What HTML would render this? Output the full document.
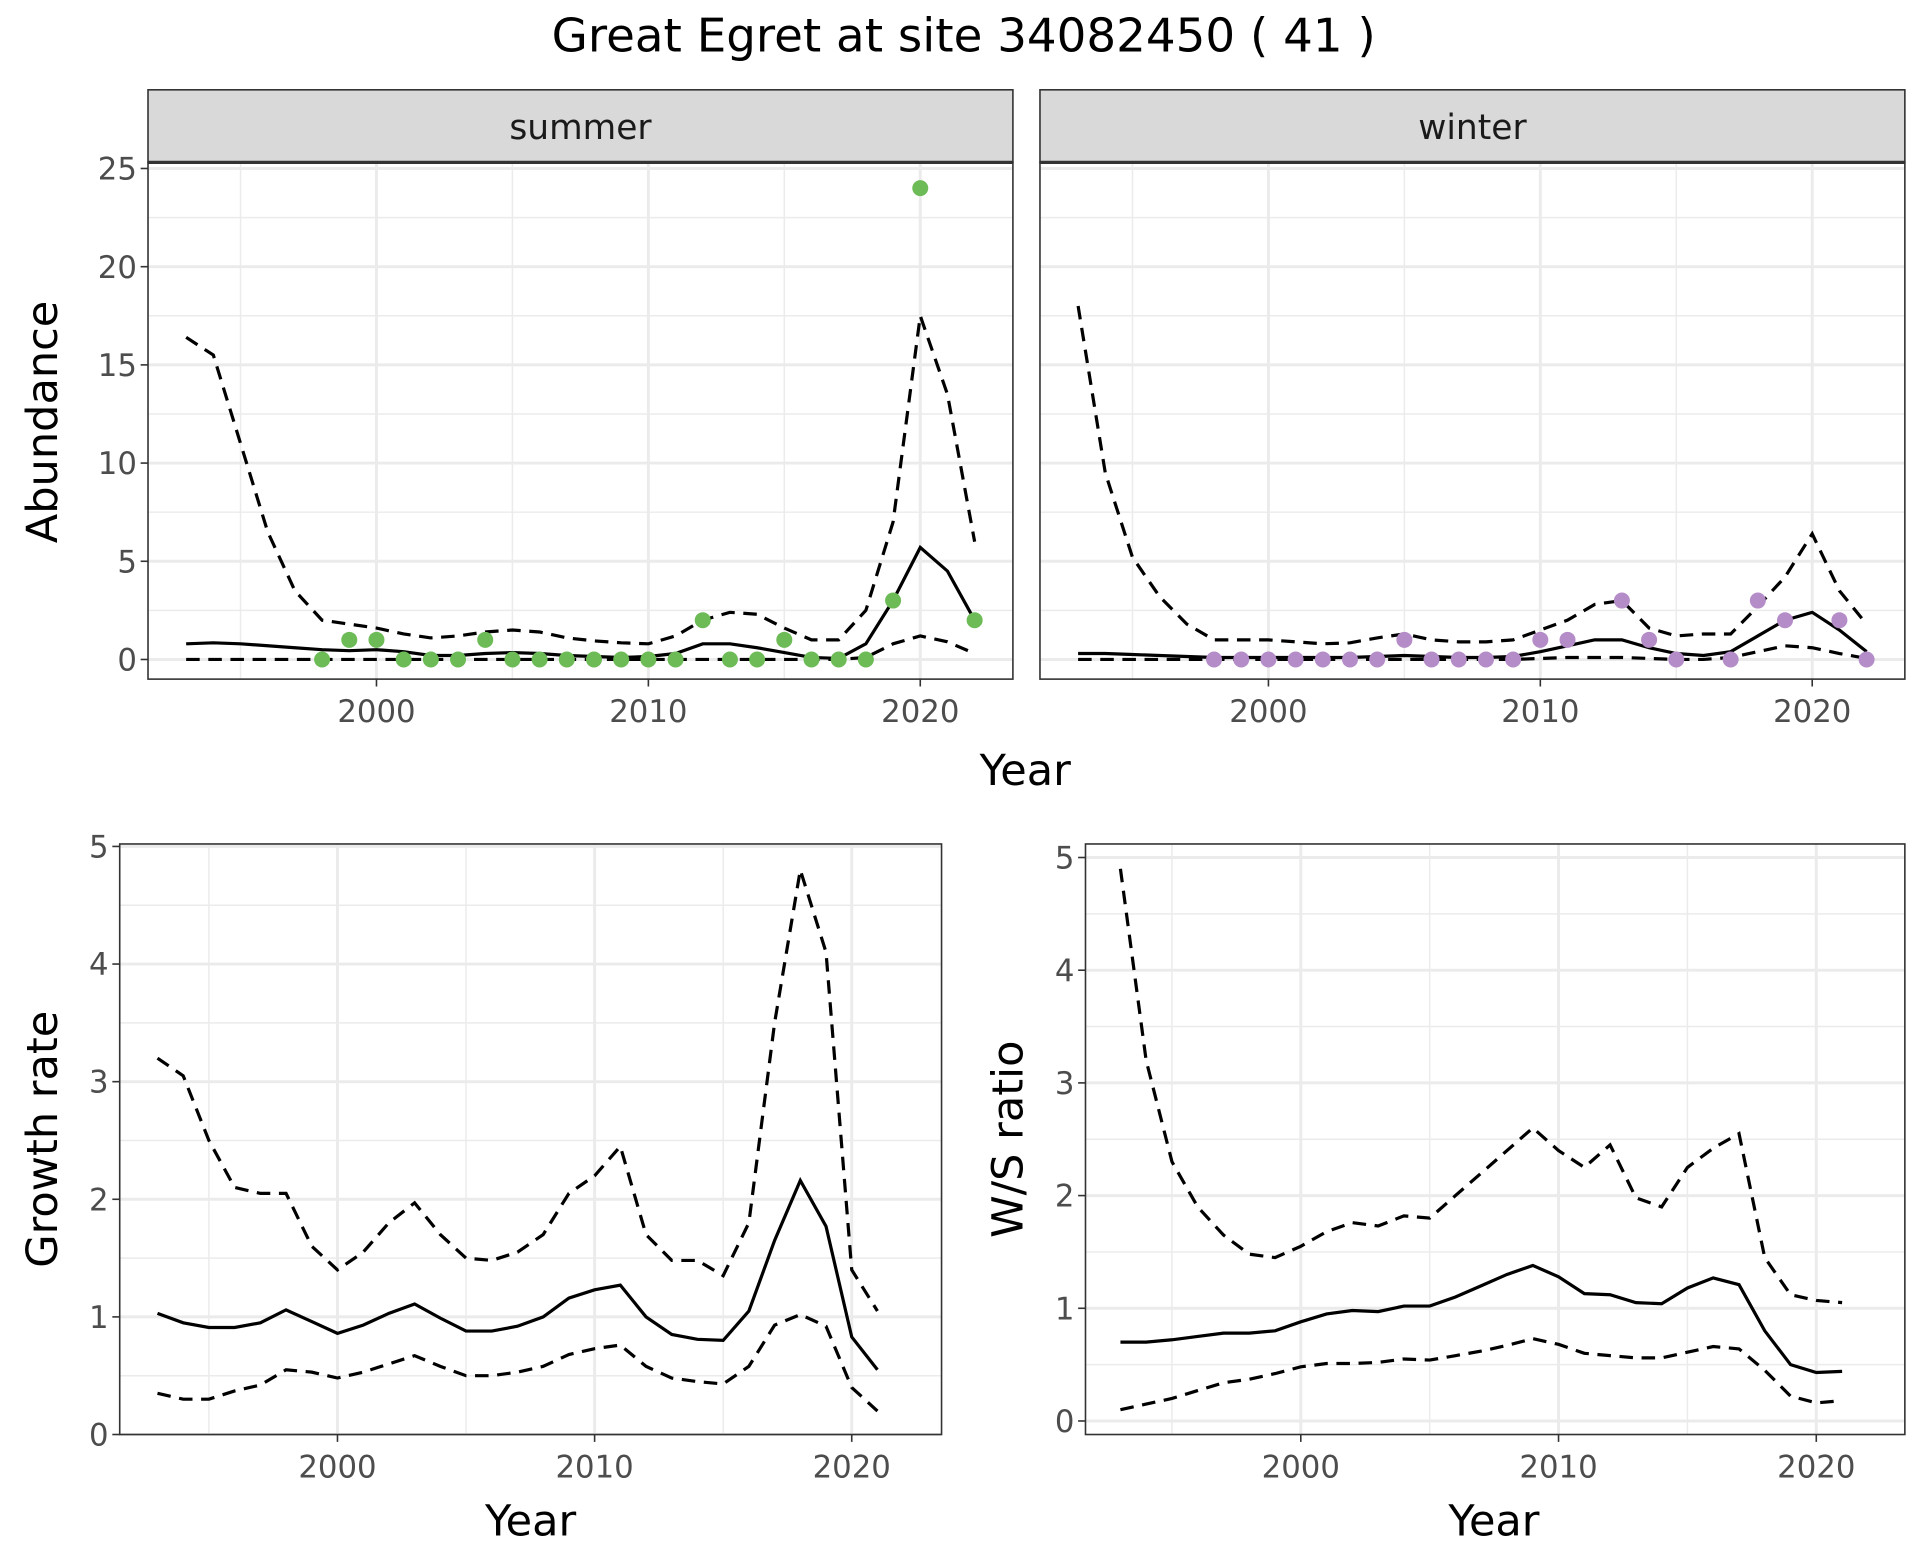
<!DOCTYPE html>
<html><head><meta charset="utf-8">
<style>
html,body{margin:0;padding:0;background:#fff;}
svg{display:block;font-family:"DejaVu Sans","Liberation Sans",sans-serif;}
</style></head>
<body>
<svg id="chart" width="1920" height="1560" viewBox="0 0 1560 1268" xmlns="http://www.w3.org/2000/svg">
<rect width="1560" height="1268" fill="#fff"/>
<text x="783" y="42" font-size="38" text-anchor="middle" fill="#000">Great Egret at site 34082450 ( 41 )</text>
</svg>
<script>
const absYears=[1993,1994,1995,1996,1997,1998,1999,2000,2001,2002,2003,2004,2005,2006,2007,2008,2009,2010,2011,2012,2013,2014,2015,2016,2017,2018,2019,2020,2021,2022];
const summerMean=[0.8,0.85,0.8,0.7,0.6,0.5,0.45,0.5,0.4,0.2,0.2,0.3,0.35,0.3,0.2,0.15,0.1,0.15,0.3,0.8,0.8,0.6,0.35,0.1,0.05,0.8,3,5.7,4.5,2];
const summerUpper=[16.4,15.5,11,6.5,3.5,2,1.8,1.6,1.3,1.1,1.2,1.4,1.5,1.4,1.1,0.95,0.85,0.8,1.2,2,2.4,2.3,1.6,1.0,1.0,2.5,7,17.5,13.5,6];
const summerLower=[0,0,0,0,0,0,0,0,0,0,0,0,0,0,0,0,0,0,0,0,0,0,0,0,0,0.1,0.8,1.2,0.9,0.3];
const summerPtYears=[1998,1999,2000,2001,2002,2003,2004,2005,2006,2007,2008,2009,2010,2011,2012,2013,2014,2015,2016,2017,2018,2019,2020,2022];
const summerPtVals=[0,1,1,0,0,0,1,0,0,0,0,0,0,0,2,0,0,1,0,0,0,3,24,2];
const winterMean=[0.3,0.3,0.25,0.2,0.15,0.1,0.1,0.1,0.1,0.1,0.1,0.15,0.2,0.15,0.1,0.1,0.15,0.4,0.7,1.0,1.0,0.6,0.3,0.2,0.4,1.2,2.0,2.4,1.5,0.4];
const winterUpper=[18,9.5,5.2,3.2,1.8,1.0,1.0,1.0,0.9,0.8,0.85,1.1,1.3,1.0,0.9,0.9,1.0,1.5,2.0,2.8,3.0,1.6,1.2,1.3,1.3,2.7,4.2,6.4,3.5,1.8];
const winterLower=[0,0,0,0,0,0,0,0,0,0,0,0,0,0,0,0,0,0.05,0.1,0.1,0.1,0.05,0,0,0.1,0.4,0.7,0.6,0.3,0.05];
const winterPtYears=[1998,1999,2000,2001,2002,2003,2004,2005,2006,2007,2008,2009,2010,2011,2013,2014,2015,2017,2018,2019,2021,2022];
const winterPtVals=[0,0,0,0,0,0,0,1,0,0,0,0,1,1,3,1,0,0,3,2,2,0];
const rateYears=[1993,1994,1995,1996,1997,1998,1999,2000,2001,2002,2003,2004,2005,2006,2007,2008,2009,2010,2011,2012,2013,2014,2015,2016,2017,2018,2019,2020,2021];
const growthMean=[1.03,0.95,0.91,0.91,0.95,1.06,0.96,0.86,0.93,1.03,1.11,0.99,0.88,0.88,0.92,1.0,1.16,1.23,1.27,1.0,0.85,0.81,0.8,1.05,1.65,2.16,1.77,0.83,0.55];
const growthUpper=[3.2,3.05,2.5,2.1,2.05,2.05,1.6,1.4,1.55,1.8,1.97,1.7,1.5,1.48,1.55,1.7,2.05,2.2,2.45,1.7,1.48,1.48,1.35,1.8,3.5,4.8,4.1,1.4,1.05];
const growthLower=[0.35,0.3,0.3,0.37,0.42,0.55,0.53,0.48,0.53,0.6,0.67,0.58,0.5,0.5,0.53,0.58,0.68,0.73,0.76,0.58,0.48,0.45,0.43,0.58,0.93,1.02,0.92,0.4,0.2];
const ratioMean=[0.7,0.7,0.72,0.75,0.78,0.78,0.8,0.88,0.95,0.98,0.97,1.02,1.02,1.1,1.2,1.3,1.38,1.28,1.13,1.12,1.05,1.04,1.18,1.27,1.21,0.8,0.5,0.43,0.44];
const ratioUpper=[4.9,3.2,2.3,1.9,1.65,1.48,1.45,1.55,1.68,1.76,1.73,1.82,1.8,2.0,2.2,2.4,2.6,2.4,2.25,2.45,1.98,1.9,2.25,2.42,2.55,1.45,1.12,1.07,1.05];
const ratioLower=[0.1,0.15,0.2,0.27,0.34,0.37,0.42,0.48,0.51,0.51,0.52,0.55,0.54,0.58,0.62,0.67,0.73,0.68,0.6,0.58,0.56,0.56,0.61,0.66,0.64,0.45,0.22,0.16,0.18];
const xTicks=[2000,2010,2020];
const xMinor=[1995,2005,2015];
const absTicks=[0,5,10,15,20,25];
const rateTicks=[0,1,2,3,4,5];

const NS="http://www.w3.org/2000/svg";
const svg=document.getElementById('chart');
function mk(tag,attrs,parent){const e=document.createElementNS(NS,tag);for(const k in attrs)e.setAttribute(k,attrs[k]);(parent||svg).appendChild(e);return e;}

function panel(cfg){
  const g=mk('g',{});
  
  
  const sx=v=>cfg.x0+(v-cfg.xmin)/(cfg.xmax-cfg.xmin)*(cfg.x1-cfg.x0);
  const sy=v=>cfg.y1-(v-cfg.ymin)/(cfg.ymax-cfg.ymin)*(cfg.y1-cfg.y0);
  mk('rect',{x:cfg.x0,y:cfg.y0,width:cfg.x1-cfg.x0,height:cfg.y1-cfg.y0,fill:'#fff'},g);
  xMinor.forEach(v=>mk('line',{x1:sx(v),x2:sx(v),y1:cfg.y0,y2:cfg.y1,stroke:'#ebebeb','stroke-width':1.2},g));
  for(let i=0;i<cfg.yticks.length-1;i++){const v=(cfg.yticks[i]+cfg.yticks[i+1])/2;if(sy(v)>cfg.y0)mk('line',{x1:cfg.x0,x2:cfg.x1,y1:sy(v),y2:sy(v),stroke:'#ebebeb','stroke-width':1.2},g);}
  {const v=cfg.yticks[cfg.yticks.length-1]+(cfg.yticks[1]-cfg.yticks[0])/2;if(sy(v)>cfg.y0)mk('line',{x1:cfg.x0,x2:cfg.x1,y1:sy(v),y2:sy(v),stroke:'#ebebeb','stroke-width':1.2},g);}
  xTicks.forEach(v=>mk('line',{x1:sx(v),x2:sx(v),y1:cfg.y0,y2:cfg.y1,stroke:'#ebebeb','stroke-width':2.4},g));
  cfg.yticks.forEach(v=>mk('line',{x1:cfg.x0,x2:cfg.x1,y1:sy(v),y2:sy(v),stroke:'#ebebeb','stroke-width':2.4},g));
  const path=(ys,vals,dash,nm)=>{const d=vals.map((v,i)=>(i?'L':'M')+sx(ys[i]).toFixed(1)+','+sy(v).toFixed(1)).join(' ');
    const p=mk('path',{d:d,fill:'none',stroke:'#000','stroke-width':2.6,'stroke-dasharray':dash||'none'},g);
    
    };
  path(cfg.years,cfg.upper,'11,7',cfg.name+'-upper-line');
  path(cfg.years,cfg.lower,'11,7',cfg.name+'-lower-line');
  path(cfg.years,cfg.mean,null,cfg.name+'-mean-line');
  if(cfg.ptYears){cfg.ptYears.forEach((yr,i)=>{const c=mk('circle',{cx:sx(yr),cy:sy(cfg.ptVals[i]),r:6.5,fill:cfg.ptColor},g);
    
    });}
  mk('rect',{x:cfg.x0,y:cfg.y0,width:cfg.x1-cfg.x0,height:cfg.y1-cfg.y0,fill:'none',stroke:'#333','stroke-width':1.3},g);
  if(cfg.showY){cfg.yticks.forEach(v=>{mk('line',{x1:cfg.x0-6,x2:cfg.x0,y1:sy(v),y2:sy(v),stroke:'#333','stroke-width':1.3},g);
    const t=mk('text',{x:cfg.x0-9,y:sy(v)+9,'font-size':25,'text-anchor':'end',fill:'#4d4d4d'},g);t.textContent=v;
    
    });}
  xTicks.forEach(v=>{mk('line',{x1:sx(v),x2:sx(v),y1:cfg.y1,y2:cfg.y1+6,stroke:'#333','stroke-width':1.3},g);
    const t=mk('text',{x:sx(v),y:cfg.y1+35,'font-size':25,'text-anchor':'middle',fill:'#4d4d4d'},g);t.textContent=v;
    
    });
  if(cfg.strip){const r=mk('rect',{x:cfg.x0,y:73,width:cfg.x1-cfg.x0,height:cfg.y0-73,fill:'#d9d9d9',stroke:'#333','stroke-width':1.3},g);
    
    
    mk('line',{x1:cfg.x0,x2:cfg.x1,y1:cfg.y0,y2:cfg.y0,stroke:'#333','stroke-width':2.6},g);
    const t=mk('text',{x:(cfg.x0+cfg.x1)/2,y:113,'font-size':28,'text-anchor':'middle',fill:'#1a1a1a'},g);t.textContent=cfg.strip;
    
    }
}
panel({name:'summer-panel',strip:'summer',x0:120,x1:823,y0:132,y1:552,xmin:1993-31/22.1,xmax:1993+(823-151)/22.1,ymin:-1.0,ymax:25.31,years:absYears,mean:summerMean,upper:summerUpper,lower:summerLower,ptYears:summerPtYears,ptVals:summerPtVals,ptColor:'#6cbb56',yticks:absTicks,showY:true});
panel({name:'winter-panel',strip:'winter',x0:845,x1:1548,y0:132,y1:552,xmin:1993-31/22.1,xmax:1993+(823-151)/22.1,ymin:-1.0,ymax:25.31,years:absYears,mean:winterMean,upper:winterUpper,lower:winterLower,ptYears:winterPtYears,ptVals:winterPtVals,ptColor:'#b48cc8',yticks:absTicks,showY:false});
panel({name:'growth-panel',x0:97,x1:765,y0:686,y1:1166,xmin:2000-(274-97)/20.9,xmax:2000+(765-274)/20.9,ymin:0,ymax:(1166-686)/95.6,years:rateYears,mean:growthMean,upper:growthUpper,lower:growthLower,yticks:rateTicks,showY:true});
panel({name:'ratio-panel',x0:882,x1:1548,y0:686,y1:1166,xmin:2000-(1057-882)/20.95,xmax:2000+(1548-1057)/20.95,ymin:-(1166-1155)/91.6,ymax:(1155-686)/91.6,years:rateYears,mean:ratioMean,upper:ratioUpper,lower:ratioLower,yticks:rateTicks,showY:true});
function label(txt,x,y,rot,nm){const t=mk('text',{x:x,y:y,'font-size':35,'text-anchor':'middle',fill:'#000',transform:rot?`rotate(-90 ${x} ${y})`:''});t.textContent=txt;
  
  }
label('Year',833,638,false,'top-x-axis-title');
label('Abundance',46,343,true,'abundance-y-axis-title');
label('Year',431,1248,false,'growth-x-axis-title');
label('Growth rate',46,926,true,'growth-y-axis-title');
label('Year',1214,1248,false,'ratio-x-axis-title');
label('W/S ratio',831,926,true,'ratio-y-axis-title');
</script>
</body></html>
